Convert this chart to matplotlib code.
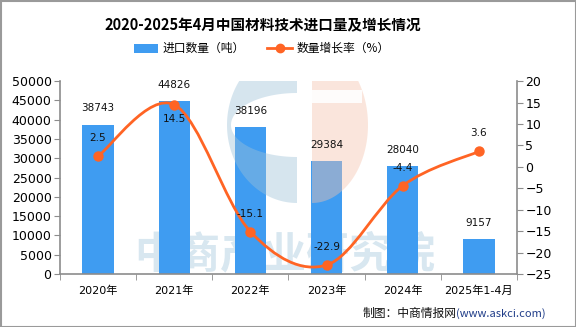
import matplotlib
matplotlib.use("Agg")
import matplotlib.pyplot as plt
import numpy as np
from matplotlib.path import Path
from matplotlib.patches import PathPatch, Polygon, Rectangle

plt.rcParams['font.family'] = ['DejaVu Sans', 'Noto Sans CJK SC']

categories = ["2020年", "2021年", "2022年", "2023年", "2024年", "2025年1-4月"]
volume = [38743, 44826, 38196, 29384, 28040, 9157]
growth = [2.5, 14.5, -15.1, -22.9, -4.4, 3.6]
# label offsets in points (growth labels); 14.5 sits under its point
growth_offsets = [13, -10, 13, 13, 13, 13]

BAR_COLOR = "#3f9cf1"
LINE_COLOR = "#ff6424"
AXIS_COLOR = "#8c8c8c"
W, H = 576, 327


def smooth_path(xs, ys, tension=0.5):
    # Catmull-Rom style bezier segments through the data points
    pts = np.column_stack([xs, ys]).astype(float)
    n = len(pts)
    verts = [pts[0]]
    codes = [Path.MOVETO]
    for i in range(n - 1):
        p0 = pts[max(i - 1, 0)]
        p1 = pts[i]
        p2 = pts[i + 1]
        p3 = pts[min(i + 2, n - 1)]
        c1 = p1 + (p2 - p0) * tension / 3
        c2 = p2 - (p3 - p1) * tension / 3
        verts += [c1, c2, p2]
        codes += [Path.CURVE4] * 3
    return Path(verts, codes)


def half_ellipse(cx, cy, rx, ry, t0, t1, inner=None):
    # polygon in image pixel coords (y down), converted to display coords
    t = np.linspace(np.radians(t0), np.radians(t1), 80)
    outer = np.column_stack([cx + rx * np.cos(t), cy - ry * np.sin(t)])
    if inner:
        irx, iry = inner
        inn = np.column_stack([cx + irx * np.cos(t[::-1]), cy - iry * np.sin(t[::-1])])
        pts = np.vstack([outer, inn])
    else:
        pts = np.vstack([outer, [[cx, cy - ry * np.sin(t[-1])]]])
    pts[:, 1] = H - pts[:, 1]
    return pts


fig = plt.figure(figsize=(5.76, 3.27), dpi=100)
ax = fig.add_axes([0.104, 0.162, 0.7936, 0.590])
ax.set_facecolor("none")
ax2 = ax.twinx()

x = np.arange(len(categories))

# watermark text, behind the bars
fig.text(0.495, 1 - 254 / H, "中商产业研究院", fontsize=31, fontweight="bold",
         family="Noto Sans CJK SC", color="#d8e7f0", ha="center",
         va="center", zorder=-1)

bars = ax.bar(x, volume, width=0.41, color=BAR_COLOR, zorder=2)
for xi, v in zip(x, volume):
    ax.annotate(str(v), (xi, v), xytext=(0, 8), textcoords="offset points",
                ha="center", va="bottom", fontsize=7.5, color="#111111", zorder=6)

ax.set_xlim(-0.5, len(categories) - 0.5)
ax.set_ylim(0, 50000)
ax.set_yticks(np.arange(0, 50001, 5000))
ax.set_xticks(x)
ax.set_xticklabels(categories, fontsize=8)
ax.set_xticks(np.arange(-0.5, len(categories), 1), minor=True)
ax.tick_params(axis="x", which="major", length=0, pad=8)
ax.tick_params(axis="x", which="minor", length=4, color=AXIS_COLOR, direction="out")
ax.tick_params(axis="y", labelsize=9, length=4, color=AXIS_COLOR, pad=2)

ax2.set_ylim(-25, 20)
ax2.set_yticks(np.arange(-25, 21, 5))
ax2.set_yticklabels([str(t).replace("-", "\u2212") for t in range(-25, 21, 5)])
ax2.tick_params(axis="y", labelsize=9, length=4, color=AXIS_COLOR, pad=2)

for a in (ax, ax2):
    for s in a.spines.values():
        s.set_visible(False)
ax.spines["left"].set_visible(True)
ax.spines["bottom"].set_visible(True)
ax2.spines["right"].set_visible(True)
for s in (ax.spines["left"], ax.spines["bottom"], ax2.spines["right"]):
    s.set_color(AXIS_COLOR)
    s.set_linewidth(1.2)

# watermark logo, drawn over the bars with transparency
blue = Polygon(half_ellipse(297, 125, 70, 78, 90, 270, inner=(66, 32)), closed=True,
               transform=None, facecolor="#9ec2d8", alpha=0.42, edgecolor="none")
peach = Polygon(half_ellipse(312, 125, 56, 78, -90, 90), closed=True,
                transform=None, facecolor="#f5c3ad", alpha=0.42, edgecolor="none")
gap = Rectangle((312, H - 103), 50, 13, transform=None, facecolor="white",
                edgecolor="none", alpha=0.9)
for p in (blue, peach):
    p.set_zorder(3)
    ax.add_artist(p)
gap.set_zorder(3.1)
ax.add_artist(gap)

curve = PathPatch(smooth_path(x, growth), facecolor="none", edgecolor=LINE_COLOR,
                  linewidth=2.0, zorder=4, capstyle="round")
ax2.add_patch(curve)
ax2.plot(x, growth, "o", color=LINE_COLOR, markersize=6.5, zorder=5)
for xi, g, off in zip(x, growth, growth_offsets):
    ax2.annotate(f"{g}", (xi, g), xytext=(0, off), textcoords="offset points",
                 ha="center", va="center", fontsize=7.5, color="#111111", zorder=6)

fig.text(0.456, 1 - 25 / H, "2020-2025年4月中国材料技术进口量及增长情况", ha="center",
         va="center", fontsize=10.5, fontweight="bold", family="Noto Sans CJK SC")

# legend
fig.patches.append(Rectangle((134, H - 53), 24, 9, transform=None,
                             facecolor=BAR_COLOR, edgecolor="none"))
fig.text(163 / W, 1 - 48 / H, "进口数量（吨）", fontsize=8.5, va="center",
         family="Noto Sans CJK SC")
fig.lines.append(plt.Line2D([267 / W, 292 / W], [1 - 48 / H] * 2,
                            transform=fig.transFigure, color=LINE_COLOR, linewidth=2))
fig.lines.append(plt.Line2D([279.5 / W], [1 - 48 / H], transform=fig.transFigure,
                            color=LINE_COLOR, marker="o", markersize=6))
fig.text(297 / W, 1 - 48 / H, "数量增长率（%）", fontsize=8.5, va="center",
         family="Noto Sans CJK SC")

# source
fig.text(0.792, 0.04, "(www.askci.com)", fontsize=8, color="#1f3c88", ha="left",
         va="center", family="Noto Sans CJK SC")
fig.text(0.792, 0.04, "制图：中商情报网", fontsize=8.5, color="#111111", ha="right",
         va="center", family="Noto Sans CJK SC")

# border
fig.patches.append(Rectangle((0.5, 0.5), W - 1, H - 1, transform=None, facecolor="none",
                             edgecolor="#9a9a9a", linewidth=1.5))

fig.savefig("out.png", dpi=100)
